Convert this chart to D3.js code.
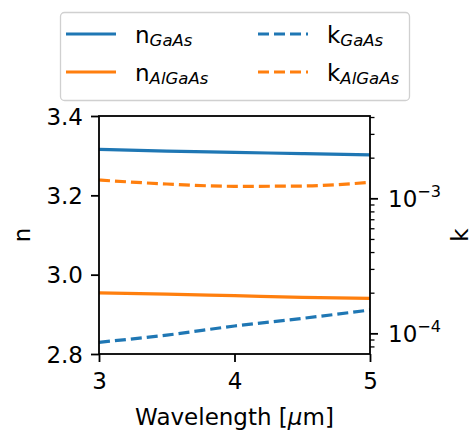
<!DOCTYPE html>
<html>
<head>
<meta charset="utf-8">
<script src="https://cdn.jsdelivr.net/npm/d3@7"></script>
<style>
  html, body { margin: 0; padding: 0; background: #fff; }
  svg text { font-family: "DejaVu Sans", sans-serif; fill: #000; }
</style>
</head>
<body>
<svg id="chart" width="475" height="432"></svg>
<script>
// Wavelength samples (µm)
const wavelength = [3.0, 3.5, 4.0, 4.5, 5.0];
// Refractive index (real part), left axis
const nGaAs   = [3.316, 3.3115, 3.3085, 3.305, 3.302];
const nAlGaAs = [2.954, 2.951, 2.947, 2.943, 2.940];
// Extinction coefficient, right (log) axis
const kGaAs   = [8.58e-5, 9.71e-5, 1.133e-4, 1.291e-4, 1.488e-4];
const kAlGaAs = [1.366e-3, 1.276e-3, 1.227e-3, 1.233e-3, 1.314e-3];

const xTicks = [3, 4, 5];
const nTicks = [2.8, 3.0, 3.2, 3.4];
const kMajor = [1e-4, 1e-3];
const kMinor = [8e-5, 9e-5, 2e-4, 3e-4, 4e-4, 5e-4, 6e-4, 7e-4, 8e-4, 9e-4, 2e-3, 3e-3, 4e-3];

const blue = "#1f77b4", orange = "#ff7f0e";
const fs = 23;
const ink = "#1a1a1a";

const svg = d3.select("#chart");
const L = 99, R = 370, T = 116, B = 354;

const x = d3.scaleLinear().domain([3, 5]).range([L, R]);
const yN = d3.scaleLinear().domain([2.8, 3.4]).range([B, T]);
const yK = d3.scaleLog().domain([7.03e-5, 4.07e-3]).range([B, T]);

const lineW = 3.2, dash = "11,5";

function drawLine(vals, scale, color, dashed) {
  const gen = d3.line().x((d, i) => x(wavelength[i])).y(d => scale(d)).curve(d3.curveMonotoneX);
  svg.append("path").datum(vals)
    .attr("d", gen)
    .attr("fill", "none")
    .attr("stroke", color)
    .attr("stroke-width", lineW)
    .attr("stroke-dasharray", dashed ? dash : null);
}

drawLine(nGaAs, yN, blue, false);
drawLine(nAlGaAs, yN, orange, false);
drawLine(kGaAs, yK, blue, true);
drawLine(kAlGaAs, yK, orange, true);

// Axes frame
svg.append("rect").attr("x", L).attr("y", T).attr("width", R - L).attr("height", B - T)
  .attr("fill", "none").attr("stroke", "#000").attr("stroke-width", 1.8);

// Bottom axis
const xAxis = d3.axisBottom(x).tickValues(xTicks).tickFormat(d3.format("d")).tickSize(8);
const gx = svg.append("g").attr("transform", `translate(0,${B})`).call(xAxis);
// Left axis
const nAxis = d3.axisLeft(yN).tickValues(nTicks).tickFormat(d3.format(".1f")).tickSize(8).tickPadding(8);
const gn = svg.append("g").attr("transform", `translate(${L},0)`).call(nAxis);
// Right axis: major decades and minor ticks
const kAxis = d3.axisRight(yK).tickValues(kMajor).tickFormat("").tickSize(8);
const gk = svg.append("g").attr("transform", `translate(${R},0)`).call(kAxis);
const kMinorAxis = d3.axisRight(yK).tickValues(kMinor).tickFormat("").tickSize(4.5);
const gkm = svg.append("g").attr("transform", `translate(${R},0)`).call(kMinorAxis);

[gx, gn, gk, gkm].forEach(g => {
  g.select(".domain").remove();
  g.selectAll(".tick line").attr("stroke", "#000").attr("stroke-width", 1.8);
  g.selectAll(".tick text").attr("font-size", fs).attr("fill", ink)
    .style("font-family", "DejaVu Sans, sans-serif");
});
gkm.selectAll(".tick line").attr("stroke-width", 1.3);
gx.selectAll(".tick text").attr("y", 35).attr("dy", null);
gn.selectAll(".tick text").attr("dy", "0.36em");

// Decade labels with superscript exponents
gk.selectAll(".tick").each(function(d) {
  const e = Math.round(Math.log10(d));
  const t = d3.select(this).append("text")
    .attr("x", 18).attr("y", 0).attr("dy", "0.36em")
    .attr("text-anchor", "start").attr("font-size", fs).attr("fill", ink);
  t.append("tspan").text("10");
  t.append("tspan").attr("font-size", fs * 0.7).attr("dy", "-0.62em").text("\u2212" + Math.abs(e));
});

// Axis labels
const xl = svg.append("text").attr("x", (L + R) / 2).attr("y", 425).attr("text-anchor", "middle")
  .attr("font-size", fs).attr("fill", ink);
xl.append("tspan").text("Wavelength [");
xl.append("tspan").attr("font-style", "italic").text("\u03bc");
xl.append("tspan").text("m]");

svg.append("text").attr("transform", `translate(30,${(T + B) / 2}) rotate(-90)`)
  .attr("text-anchor", "middle").attr("font-size", fs).attr("fill", ink).text("n");
svg.append("text").attr("transform", `translate(468,${(T + B) / 2}) rotate(-90)`)
  .attr("text-anchor", "middle").attr("font-size", fs).attr("fill", ink).text("k");

// Legend
const legendItems = [
  { base: "n", sub: "GaAs", color: blue, dashed: false, col: 0, row: 0 },
  { base: "n", sub: "AlGaAs", color: orange, dashed: false, col: 0, row: 1 },
  { base: "k", sub: "GaAs", color: blue, dashed: true, col: 1, row: 0 },
  { base: "k", sub: "AlGaAs", color: orange, dashed: true, col: 1, row: 1 }
];
svg.append("rect").attr("x", 60.5).attr("y", 12.5).attr("width", 349).attr("height", 88)
  .attr("rx", 4).attr("fill", "#fff").attr("stroke", "#d0d0d0").attr("stroke-width", 1.3);
const colX = [66, 258], rowY = [34, 72];
legendItems.forEach(it => {
  const lx = colX[it.col], ly = rowY[it.row];
  svg.append("line").attr("x1", lx).attr("x2", lx + 50).attr("y1", ly).attr("y2", ly)
    .attr("stroke", it.color).attr("stroke-width", lineW)
    .attr("stroke-dasharray", it.dashed ? dash : null);
  const t = svg.append("text").attr("x", lx + 69).attr("y", ly + 9).attr("font-size", fs).attr("fill", ink);
  t.append("tspan").text(it.base);
  t.append("tspan").attr("font-size", fs * 0.72).attr("font-style", "italic").attr("dy", "0.2em").text(it.sub);
});
</script>
</body>
</html>
